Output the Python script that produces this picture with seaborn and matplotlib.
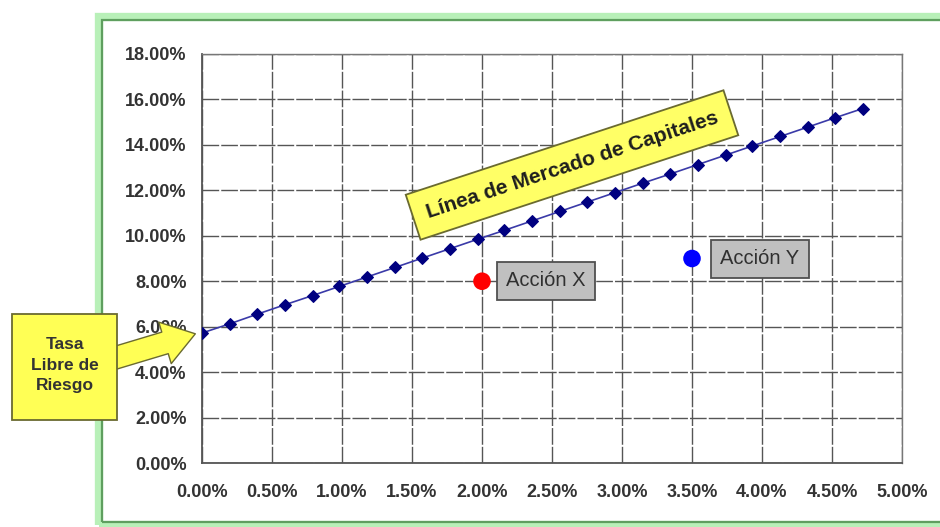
import matplotlib
matplotlib.use("Agg")
import matplotlib.pyplot as plt
from matplotlib.patches import Rectangle, FancyArrowPatch
from matplotlib.ticker import FuncFormatter
import seaborn as sns
import pandas as pd

# Capital market line: risk (%) vs. expected return (%)
cml_risk = [0.00, 0.20, 0.39, 0.59, 0.79, 0.98, 1.18, 1.38, 1.57, 1.77, 1.97, 2.16,
            2.36, 2.56, 2.75, 2.95, 3.15, 3.34, 3.54, 3.74, 3.93, 4.13, 4.33, 4.52, 4.72]
cml_return = [5.72, 6.13, 6.54, 6.96, 7.37, 7.77, 8.19, 8.61, 9.01, 9.43, 9.85, 10.24,
              10.66, 11.08, 11.48, 11.90, 12.32, 12.71, 13.13, 13.55, 13.95, 14.37, 14.79, 15.19, 15.60]

# Individual stocks
stock_names = ["Acción X", "Acción Y"]
stock_risk = [2.0, 3.5]
stock_return = [8.0, 9.0]
stock_colors = ["#ff0000", "#0000ff"]

x_ticks = [0.0, 0.5, 1.0, 1.5, 2.0, 2.5, 3.0, 3.5, 4.0, 4.5, 5.0]
y_ticks = [0, 2, 4, 6, 8, 10, 12, 14, 16, 18]

cml = pd.DataFrame({"riesgo": cml_risk, "rendimiento": cml_return})
stocks = pd.DataFrame({"accion": stock_names, "riesgo": stock_risk, "rendimiento": stock_return})

sns.set_style("white")
plt.rcParams["font.family"] = ["Liberation Sans", "DejaVu Sans"]

W, H = 940, 527
fig = plt.figure(figsize=(W / 100, H / 100), dpi=100)
fig.patch.set_facecolor("white")


def px(x, y):
    return (x / W, 1 - y / H)


# green chart-area frame
fig.patches.append(Rectangle(px(99, 525), (W + 20) / W, (525 - 17) / H,
                             transform=fig.transFigure, fill=False,
                             edgecolor="#b8f0b8", linewidth=6, zorder=0))
fig.patches.append(Rectangle(px(102, 522), (W + 20) / W, (522 - 20) / H,
                             transform=fig.transFigure, fill=False,
                             edgecolor="#5f9f5f", linewidth=1.6, zorder=0))

ax = fig.add_axes([202 / W, 1 - 463 / H, (902 - 202) / W, (463 - 54) / H])
ax.set_facecolor("white")

sns.lineplot(data=cml, x="riesgo", y="rendimiento", ax=ax, color="#3a3aa8",
             linewidth=1.2, marker="D", markersize=6, markerfacecolor="#000080",
             markeredgecolor="#000080", zorder=4)
sns.scatterplot(data=stocks, x="riesgo", y="rendimiento", hue="accion",
                palette=stock_colors, s=160, edgecolor="none", ax=ax,
                legend=False, zorder=5)

ax.set_xlim(x_ticks[0], x_ticks[-1])
ax.set_ylim(y_ticks[0], y_ticks[-1])
ax.set_xticks(x_ticks)
ax.set_yticks(y_ticks)
ax.xaxis.set_major_formatter(FuncFormatter(lambda v, p: f"{v:.2f}%"))
ax.yaxis.set_major_formatter(FuncFormatter(lambda v, p: f"{v:.2f}%"))
ax.set_xlabel("")
ax.set_ylabel("")

ax.grid(True, color="#555555", linewidth=1.0, linestyle=(0, (12, 1.5)))
ax.set_axisbelow(True)
for side in ["top", "right"]:
    ax.spines[side].set_color("#777777")
    ax.spines[side].set_linewidth(1.0)
for side in ["left", "bottom"]:
    ax.spines[side].set_color("#555555")
    ax.spines[side].set_linewidth(1.3)

ax.tick_params(axis="both", direction="out", length=6, width=1.2, color="#555555",
               labelsize=13, labelcolor="#333333", pad=5)
ax.tick_params(axis="x", pad=9)
for lab in ax.get_xticklabels() + ax.get_yticklabels():
    lab.set_fontweight("bold")

# labels of the two stocks
label_box = dict(boxstyle="square,pad=0.45", facecolor="#c0c0c0", edgecolor="#505050", linewidth=1.3)
ax.text(2.457, 8.01, stock_names[0], fontsize=14.5, color="#303030",
        ha="center", va="center", bbox=label_box, zorder=6)
ax.text(3.986, 8.98, stock_names[1], fontsize=14.5, color="#303030",
        ha="center", va="center", bbox=label_box, zorder=6)

# rotated callout for the capital market line
fig.text(*px(572, 165), "Línea de Mercado de Capitales", rotation=18.2, rotation_mode="anchor",
         ha="center", va="center", fontsize=15, fontweight="bold", color="#1e1e1e",
         bbox=dict(boxstyle="square,pad=0.68", facecolor="#ffff66", edgecolor="#6a6a30", linewidth=1.3),
         zorder=10)

# risk-free rate callout with block arrow
arrow = FancyArrowPatch(px(108, 360), px(198, 333), transform=fig.transFigure,
                        arrowstyle="simple,head_length=1.9,head_width=2.6,tail_width=1.35",
                        mutation_scale=12, facecolor="#ffff55", edgecolor="#6a6a30",
                        linewidth=1.0, zorder=9)
fig.patches.append(arrow)
fig.patches.append(Rectangle(px(12, 420), 105 / W, 106 / H, transform=fig.transFigure,
                             facecolor="#ffff55", edgecolor="#6a6a30", linewidth=1.3, zorder=10))
fig.text(*px(64.5, 365), "Tasa\nLibre de\nRiesgo", ha="center", va="center", fontsize=12.5,
         fontweight="bold", color="#333333", linespacing=1.45, zorder=11)

fig.savefig("out.png", dpi=100)
